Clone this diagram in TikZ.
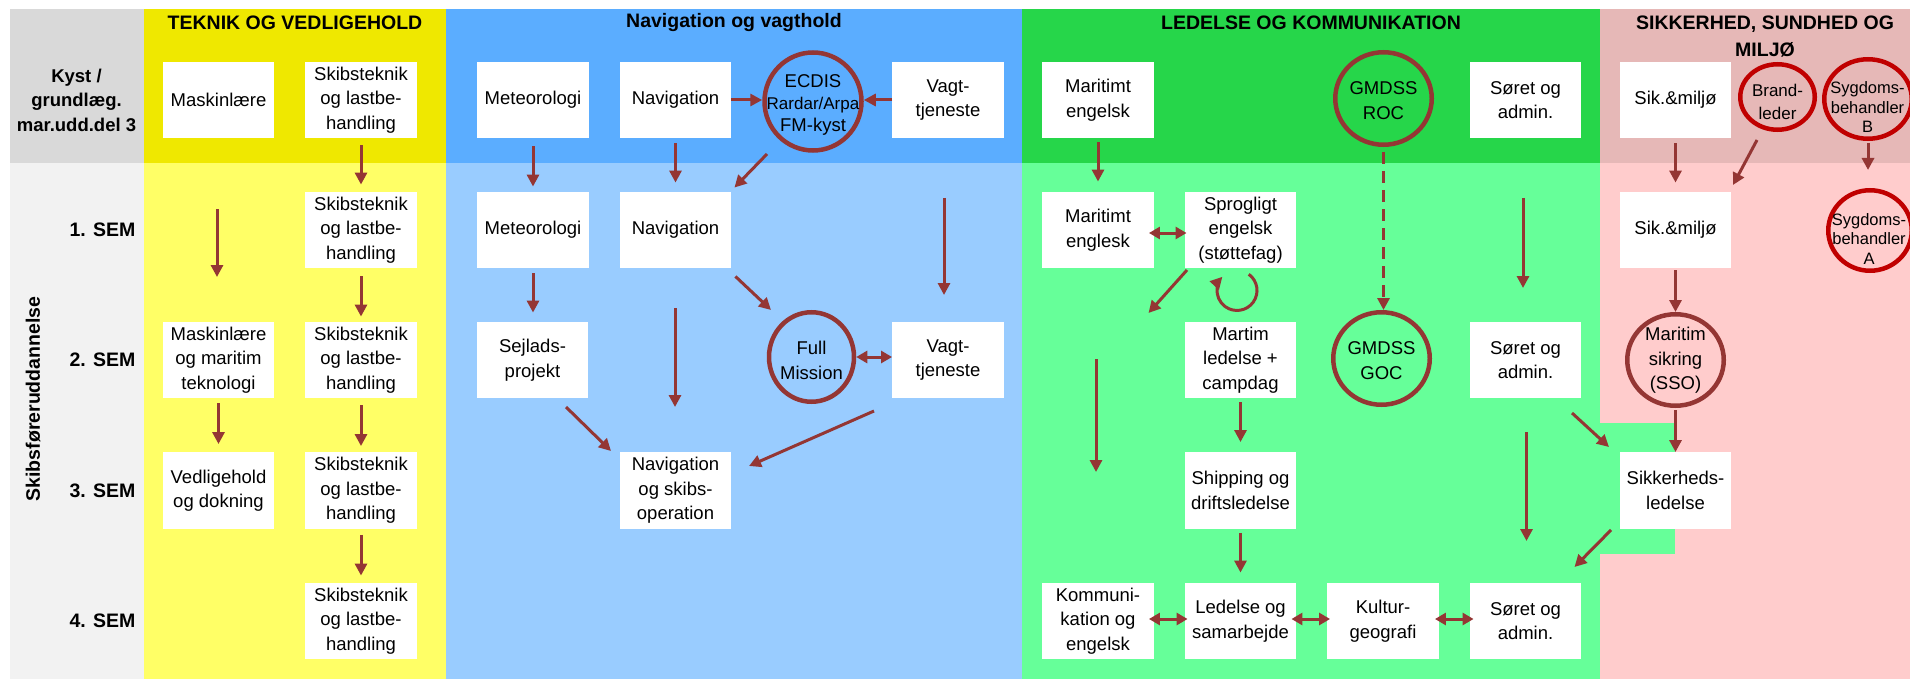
\documentclass[tikz,border=0pt]{standalone}
\usepackage{fontspec}
\setmainfont{Liberation Sans}
\usetikzlibrary{arrows.meta,shapes.geometric,calc}
\definecolor{arrc}{RGB}{148,54,52}
\definecolor{redc}{RGB}{192,0,0}
\definecolor{greyH}{RGB}{217,217,217}
\definecolor{greyB}{RGB}{242,242,242}
\definecolor{yelH}{RGB}{239,232,0}
\definecolor{yelB}{RGB}{255,255,102}
\definecolor{bluH}{RGB}{91,173,255}
\definecolor{bluB}{RGB}{153,204,255}
\definecolor{grnH}{RGB}{38,214,74}
\definecolor{grnB}{RGB}{102,255,153}
\definecolor{pnkH}{RGB}{230,184,183}
\definecolor{pnkB}{RGB}{255,204,204}
\newcommand\myBoxFont{\fontsize{18.5}{24.5}\selectfont}
\newcommand\myHeadFont{\fontsize{19.5}{27}\selectfont\bfseries}
\newcommand\mySmallFont{\fontsize{16.5}{19.5}\selectfont}
\begin{document}
\begin{tikzpicture}[x=1pt,y=-1pt,
  box/.style={fill=white, minimum width=111.5pt, minimum height=76.5pt, inner sep=0pt, align=center, font=\myBoxFont},
  ring/.style={ellipse, draw=arrc, line width=4.5pt, inner sep=0pt},
  redring/.style={ellipse, draw=redc, line width=4.5pt, inner sep=0pt},
  txt/.style={align=center, inner sep=0pt, font=\myBoxFont},
  head/.style={align=center, inner sep=0pt, font=\myHeadFont},
  arr/.style={draw=arrc, line width=3pt, -{Triangle[length=12pt,width=12pt]}},
  darr/.style={draw=arrc, line width=3pt, {Triangle[length=11pt,width=12pt]}-{Triangle[length=11pt,width=12pt]}},
]
\useasboundingbox (0,0) rectangle (1910,679);
\begin{scope}
\clip (0,0) rectangle (1910,679);
% backgrounds
\fill[greyH] (10,9) rectangle (143.5,163);
\fill[greyB] (10,163) rectangle (143.5,679);
\fill[yelH] (143.5,9) rectangle (446,163);
\fill[yelB] (143.5,163) rectangle (446,679);
\fill[bluH] (446,9) rectangle (1022,163);
\fill[bluB] (446,163) rectangle (1022,679);
\fill[grnH] (1022,9) rectangle (1599.5,163);
\fill[grnB] (1022,163) rectangle (1599.5,679);
\fill[pnkH] (1599.5,9) rectangle (1910,163);
\fill[pnkB] (1599.5,163) rectangle (1910,679);
\fill[grnB] (1599.5,423) rectangle (1675,554);

% titles and row labels
\node[head] (tYel) at (295,23) {TEKNIK OG VEDLIGEHOLD};
\node[head] (tBlu) at (734,23) {Navigation og vagthold};
\node[head] (tGrn) at (1311,23) {LEDELSE OG KOMMUNIKATION};
\node[head] (tPnk) at (1765,36.5) {SIKKERHED, SUNDHED OG\\MILJØ};
\node[align=center, inner sep=0pt, font=\fontsize{18.5}{24.5}\selectfont\bfseries] (kyst) at (76.5,100) {Kyst /\\grundlæg.\\mar.udd.del 3};
\node[head, rotate=90] (skibsf) at (33,399) {Skibsføreruddannelse};
\node[head, anchor=east] (sem1) at (135.5,230) {1. SEM};
\node[head, anchor=east] (sem2) at (135.5,360) {2. SEM};
\node[head, anchor=east] (sem3) at (135.5,490.5) {3. SEM};
\node[head, anchor=east] (sem4) at (135.5,621) {4. SEM};

% yellow column
\node[box] (mask0) at (218.5,100) {Maskinlære};
\node[box] (skib0) at (361,100) {Skibsteknik\\og lastbe-\\handling};
\node[box] (skib1) at (361,230) {Skibsteknik\\og lastbe-\\handling};
\node[box] (mask2) at (218.5,360) {Maskinlære\\og maritim\\teknologi};
\node[box] (skib2) at (361,360) {Skibsteknik\\og lastbe-\\handling};
\node[box] (ved3) at (218.5,490.5) {Vedligehold\\og dokning};
\node[box] (skib3) at (361,490.5) {Skibsteknik\\og lastbe-\\handling};
\node[box] (skib4) at (361,621) {Skibsteknik\\og lastbe-\\handling};

% blue column
\node[box] (met0) at (533,100) {Meteorologi};
\node[box] (nav0) at (675.5,100) {Navigation};
\node[ring, minimum width=97pt, minimum height=98pt] (ecdis) at (813,101.5) {};
\node[txt, font=\fontsize{18.5}{22}\selectfont] (ecdist) at (813,104.5) {ECDIS\\{\fontsize{17}{22}\selectfont Rardar/Arpa}\\FM-kyst};
\node[box] (vagt0) at (948,100) {Vagt-\\tjeneste};
\node[box] (met1) at (533,230) {Meteorologi};
\node[box] (nav1) at (675.5,230) {Navigation};
\node[box] (sejl2) at (532.5,360) {Sejlads-\\projekt};
\node[ring, minimum width=85pt, minimum height=89.5pt] (full) at (811.5,357) {};
\node[txt] (fullt) at (811.5,360.5) {Full\\Mission};
\node[box] (vagt2) at (948,360) {Vagt-\\tjeneste};
\node[box] (navsk3) at (675.5,490.5) {Navigation\\og skibs-\\operation};

% green column
\node[box] (mar0) at (1098,100) {Maritimt\\engelsk};
\node[ring, minimum width=96.5pt, minimum height=92.5pt] (roc) at (1383.5,98.5) {};
\node[txt] (roct) at (1383.5,100.5) {GMDSS\\ROC};
\node[box] (sor0) at (1525.5,100) {Søret og\\admin.};
\node[box] (mar1) at (1098,230) {Maritimt\\englesk};
\node[box] (spro1) at (1240.5,230) {Sprogligt\\engelsk\\(støttefag)};
\node[box] (mle2) at (1240.5,360) {Martim\\ledelse +\\campdag};
\node[ring, minimum width=96.5pt, minimum height=92.5pt] (goc) at (1381.5,358.5) {};
\node[txt] (goct) at (1381.5,360.5) {GMDSS\\GOC};
\node[box] (sor2) at (1525.5,360) {Søret og\\admin.};
\node[box] (ship3) at (1240.5,490.5) {Shipping og\\driftsledelse};
\node[box] (kom4) at (1098,621) {Kommuni-\\kation og\\engelsk};
\node[box] (led4) at (1240.5,621) {Ledelse og\\samarbejde};
\node[box] (kul4) at (1383,621) {Kultur-\\geografi};
\node[box] (sor4) at (1525.5,621) {Søret og\\admin.};

% pink column
\node[box] (sik0) at (1675.5,100) {Sik.\&miljø};
\node[redring, minimum width=74.5pt, minimum height=65.5pt] (brand) at (1777.5,97) {};
\node[txt, font=\fontsize{17}{23}\selectfont] (brandt) at (1777.5,101.5) {Brand-\\leder};
\node[redring, minimum width=87.5pt, minimum height=79.5pt] (sygB) at (1868,99) {};
\node[txt, font=\mySmallFont] (sygBt) at (1867.5,107.5) {Sygdoms-\\behandler\\B};
\node[box] (sik1) at (1675.5,230) {Sik.\&miljø};
\node[redring, minimum width=83.5pt, minimum height=80.5pt] (sygA) at (1870,230.5) {};
\node[txt, font=\mySmallFont] (sygAt) at (1869,239) {Sygdoms-\\behandler\\A};
\node[ring, minimum width=96.5pt, minimum height=91.5pt] (sso) at (1675.5,360) {};
\node[txt] (ssot) at (1675.5,360.5) {Maritim\\sikring\\(SSO)};
\node[box] (sikl3) at (1675.5,490.5) {Sikkerheds-\\ledelse};

% free connector ends
\coordinate (fyA) at (217,209); \coordinate (fyB) at (217,277);
\coordinate (fbA) at (675,308); \coordinate (fbB) at (675,407);
\coordinate (fbC) at (944,198); \coordinate (fbD) at (944,295);
\coordinate (fgA) at (1523,198); \coordinate (fgB) at (1523,288);
\coordinate (fgC) at (1148.5,313);
\coordinate (fgD) at (1096,359); \coordinate (fgE) at (1096,472);
\coordinate (fgF) at (1526.5,432); \coordinate (fgG) at (1526.5,541);
\coordinate (fgH) at (1574.5,567);

% yellow arrows
\draw[arr, shorten <=7pt, shorten >=7pt] (skib0.south) -- (skib0.south |- skib1.north);
\draw[arr] (fyA) -- (fyB);
\draw[arr, shorten <=8pt, shorten >=5pt] (skib1.south) -- (skib1.south |- skib2.north);
\draw[arr, shorten <=5pt, shorten >=8pt] (mask2.south) -- (mask2.south |- ved3.north);
\draw[arr, shorten <=7pt, shorten >=6pt] (skib2.south) -- (skib2.south |- skib3.north);
\draw[arr, shorten <=6pt, shorten >=7pt] (skib3.south) -- (skib3.south |- skib4.north);

% blue arrows
\draw[arr] (nav0.east) -- (nav0.east -| ecdis.west);
\draw[arr] (vagt0.west) -- (vagt0.west -| ecdis.east);
\draw[arr, shorten <=8pt, shorten >=5pt] (met0.south) -- (met0.south |- met1.north);
\draw[arr, shorten <=5pt, shorten >=9pt] (nav0.south) -- (nav0.south |- nav1.north);
\draw[arr] ($(ecdis)+(-46,52.5)$) -- ($(nav1.north east)+(3,-4)$);
\draw[arr, shorten <=5pt, shorten >=9pt] (met1.south) -- (met1.south |- sejl2.north);
\draw[arr] ($(nav1.south east)+(4,8)$) -- ($(full)+(-40.5,-47)$);
\draw[arr] (fbA) -- (fbB);
\draw[arr] (fbC) -- (fbD);
\draw[darr] (full.east) -- (full.east -| vagt2.west);
\draw[arr] ($(sejl2)+(33.5,47)$) -- ($(navsk3)+(-64.5,-39.5)$);
\draw[arr] ($(vagt2)+(-74,51)$) -- ($(navsk3)+(73.5,-24.5)$);

% green arrows
\draw[arr, shorten <=4pt, shorten >=10pt] (mar0.south) -- (mar0.south |- mar1.north);
\draw[draw=arrc, line width=3pt, dash pattern=on 12pt off 7pt, -{Triangle[length=12pt,width=12pt]}, shorten <=5pt] (roc.south) -- (roc.south |- goc.north);
\draw[arr] (fgA) -- (fgB);
\draw[darr, shorten <=-5pt, shorten >=-2pt] ($(mar1.east)+(0,3)$) -- ($(spro1.west)+(0,3)$);
\draw[arr] ($(spro1)+(-53.5,40)$) -- (fgC);
\draw[draw=arrc, line width=3pt, -{Triangle[length=12pt,width=12pt]}] ($(spro1.south)+(-3.5,22)$) ++(-54:20) arc[start angle=-54, end angle=223, radius=20];
\draw[arr] (fgD) -- (fgE);
\draw[arr, shorten <=4pt, shorten >=10pt] (mle2.south) -- (mle2.south |- ship3.north);
\draw[arr] (fgF) -- (fgG);
\draw[arr] ($(sor2)+(46.5,53)$) -- ($(sikl3)+(-66.5,-43.5)$);
\draw[arr] ($(sikl3)+(-64.5,39.5)$) -- (fgH);
\draw[arr, shorten <=4pt, shorten >=10pt] (ship3.south) -- (ship3.south |- led4.north);
\draw[darr, shorten <=-5pt, shorten >=-3pt] ($(kom4.east)+(0,-2)$) -- ($(led4.west)+(0,-2)$);
\draw[darr, shorten <=-5pt, shorten >=-3pt] ($(led4.east)+(0,-2)$) -- ($(kul4.west)+(0,-2)$);
\draw[darr, shorten <=-4pt, shorten >=-4pt] ($(kul4.east)+(0,-2)$) -- ($(sor4.west)+(0,-2)$);

% pink arrows
\draw[arr, shorten <=5pt, shorten >=9pt] (sik0.south) -- (sik0.south |- sik1.north);
\draw[arr] ($(brand)+(-20.5,43)$) -- ($(sik1)+(57.5,-45)$);
\draw[arr, shorten <=2pt, shorten >=18pt] (sygB.south) -- (sygB.south |- sygA.north);
\draw[arr, shorten <=2pt] (sik1.south) -- (sik1.south |- sso.north);
\draw[arr, shorten <=2pt] (sso.south) -- (sso.south |- sikl3.north);
\end{scope}
\end{tikzpicture}
\end{document}
